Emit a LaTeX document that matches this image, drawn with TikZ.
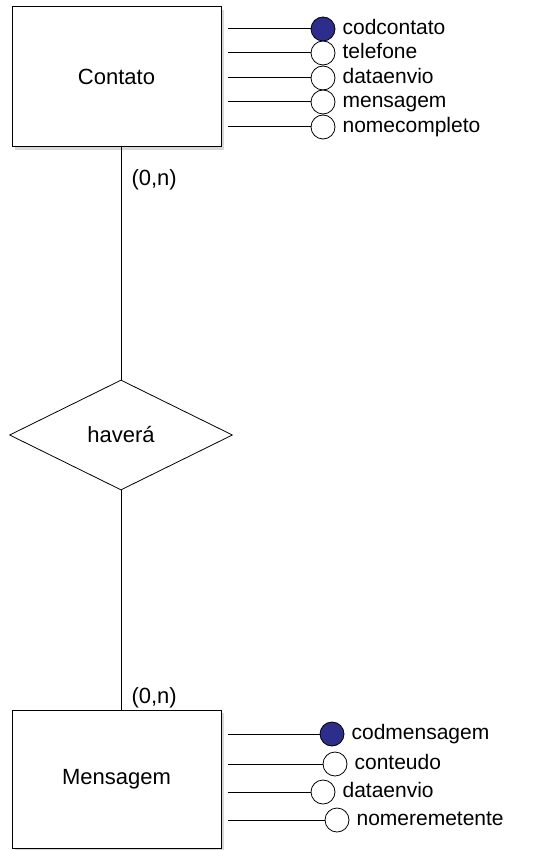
\documentclass[tikz,border=0pt]{standalone}
\usepackage{fontspec}
\setmainfont{Liberation Sans}
\usetikzlibrary{positioning, shapes.geometric, shadows}
\definecolor{keyblue}{RGB}{45, 45, 140}

\begin{document}
\begin{tikzpicture}[
		x=1pt, y=-1pt,
		font=\fontsize{22}{26}\selectfont,
		entbox/.style={draw, fill=white, line width=1pt,
			minimum width=209pt, minimum height=140pt,
			drop shadow={shadow xshift=3pt, shadow yshift=-3pt, fill=black!30}},
		relbox/.style={draw, diamond, aspect=2, minimum width=223pt,
			minimum height=110pt, inner sep=0pt, line width=0.8pt},
		attrdot/.style={draw, circle, fill=white, minimum size=24pt,
			inner sep=0pt, line width=0.8pt},
		keydot/.style={attrdot, fill=keyblue},
		attrname/.style={inner sep=0pt, font=\fontsize{21}{24}\selectfont,
			text height=15pt, text depth=4.5pt},
		lnk/.style={line width=1pt},
		card/.style={anchor=west, inner sep=2pt, xshift=8pt}
		]
		\useasboundingbox (0,0) rectangle (545,850);
		% entidades e relacionamento
		\node[entbox] (contato) at (116.5,77) {Contato};
		\node[entbox, minimum height=138pt] (mensagem) at (116.5,779) {Mensagem};
		\node[relbox] (havera) at (121,435) {haver\'a};
		\draw[lnk] (contato.south -| havera.north) -- (havera.north)
		node[card, pos=0.14] {(0,n)};
		\draw[lnk] (havera.south) -- (havera.south |- mensagem.north)
		node[card, pos=0.945] {(0,n)};
		% atributos de Contato
		\node[keydot] (codcontato) at (323,29) {};
		\node[attrdot] (telefone) at (323,53) {};
		\node[attrdot] (dataenvioa) at (323,78) {};
		\node[attrdot] (mensagemattr) at (323,102) {};
		\node[attrdot] (nomecompleto) at (323,127) {};
		\node[attrname, right=7pt of codcontato] {codcontato};
		\node[attrname, right=7pt of telefone] {telefone};
		\node[attrname, right=7pt of dataenvioa] {dataenvio};
		\node[attrname, right=7pt of mensagemattr] {mensagem};
		\node[attrname, right=7pt of nomecompleto] {nomecompleto};
		\draw[lnk, shorten <=6pt] (contato.east |- codcontato) -- (codcontato);
		\draw[lnk, shorten <=6pt] (contato.east |- telefone) -- (telefone);
		\draw[lnk, shorten <=6pt] (contato.east |- dataenvioa) -- (dataenvioa);
		\draw[lnk, shorten <=6pt] (contato.east |- mensagemattr) -- (mensagemattr);
		\draw[lnk, shorten <=6pt] (contato.east |- nomecompleto) -- (nomecompleto);
		% atributos de Mensagem
		\node[keydot] (codmensagem) at (332,734) {};
		\node[attrdot] (conteudo) at (335,764) {};
		\node[attrdot] (dataenviob) at (323,792) {};
		\node[attrdot] (nomeremetente) at (337,820) {};
		\node[attrname, right=7pt of codmensagem] {codmensagem};
		\node[attrname, right=7pt of conteudo] {conteudo};
		\node[attrname, right=7pt of dataenviob] {dataenvio};
		\node[attrname, right=7pt of nomeremetente] {nomeremetente};
		\draw[lnk, shorten <=6pt] (mensagem.east |- codmensagem) -- (codmensagem);
		\draw[lnk, shorten <=6pt] (mensagem.east |- conteudo) -- (conteudo);
		\draw[lnk, shorten <=6pt] (mensagem.east |- dataenviob) -- (dataenviob);
		\draw[lnk, shorten <=6pt] (mensagem.east |- nomeremetente) -- (nomeremetente);
\end{tikzpicture}
\end{document}
